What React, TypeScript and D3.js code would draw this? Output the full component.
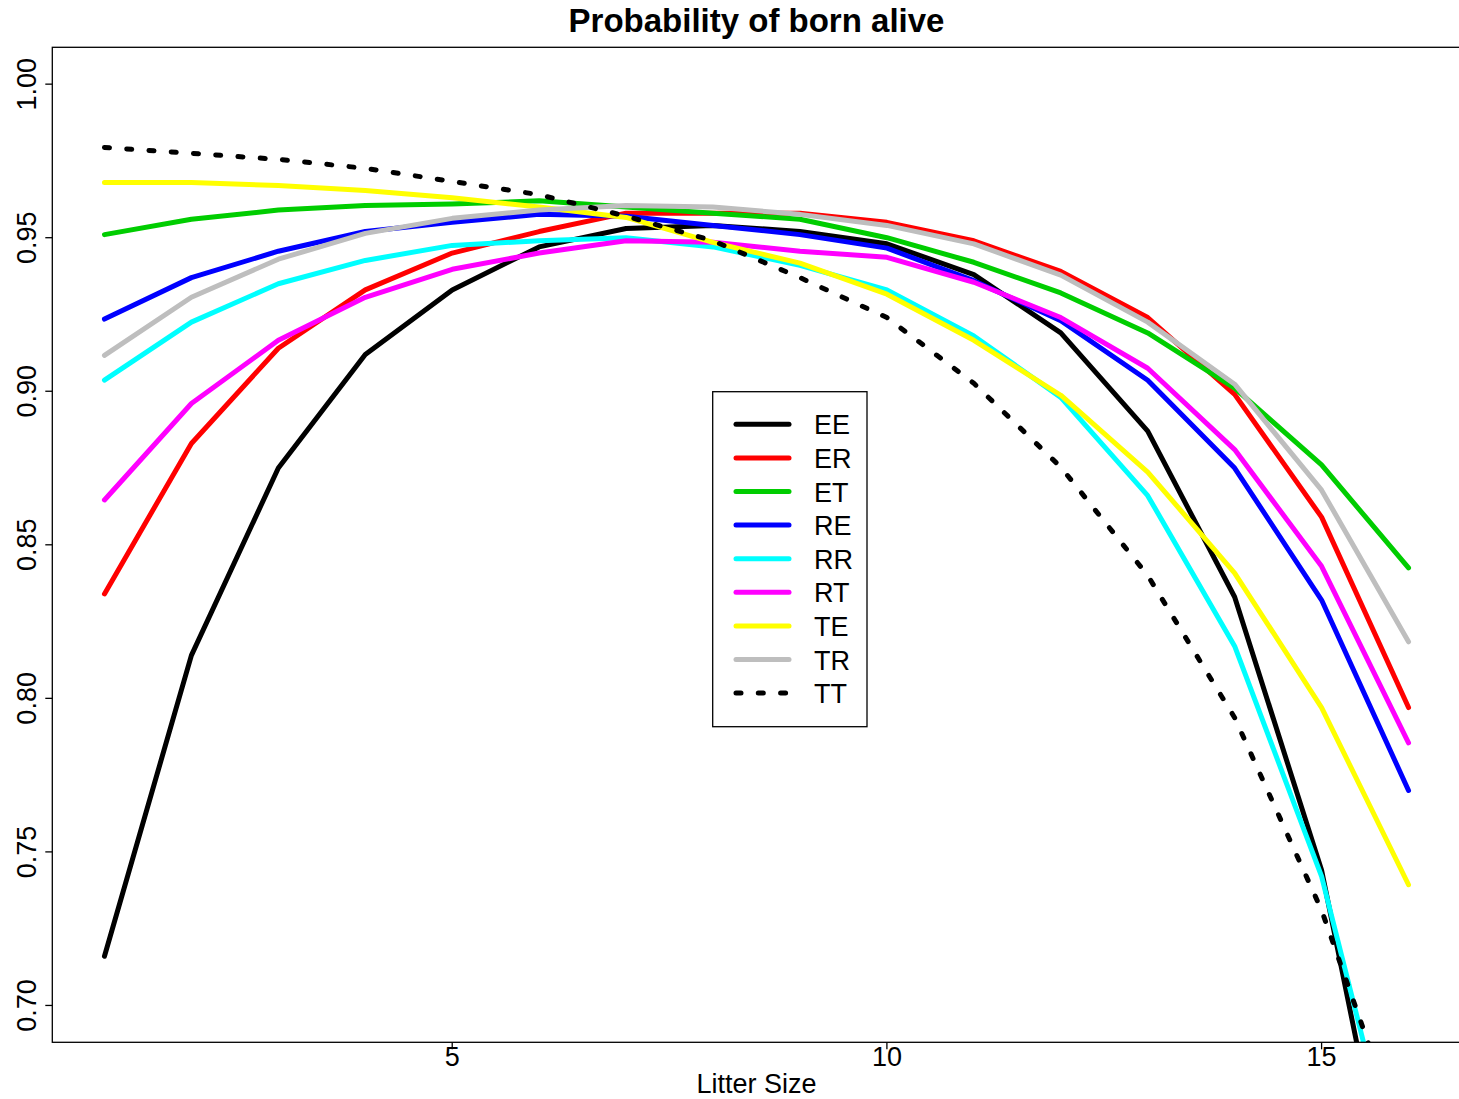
import React from "react";
import * as d3 from "d3";

const litterSizes = [1, 2, 3, 4, 5, 6, 7, 8, 9, 10, 11, 12, 13, 14, 15, 16];

const seriesNames = ["EE", "ER", "ET", "RE", "RR", "RT", "TE", "TR", "TT"];
const seriesColors = ["#000000", "#FF0000", "#00CD00", "#0000FF", "#00FFFF", "#FF00FF", "#FFFF00", "#BEBEBE", "#000000"];
const seriesDotted = [false, false, false, false, false, false, false, false, true];

const EE = [0.716, 0.814, 0.875, 0.912, 0.933, 0.947, 0.953, 0.954, 0.952, 0.948, 0.938, 0.919, 0.887, 0.833, 0.744, 0.605];
const ER = [0.834, 0.883, 0.914, 0.933, 0.945, 0.952, 0.958, 0.958, 0.958, 0.955, 0.949, 0.939, 0.924, 0.899, 0.859, 0.797];
const ET = [0.951, 0.956, 0.959, 0.9605, 0.961, 0.962, 0.96, 0.958, 0.956, 0.95, 0.942, 0.932, 0.919, 0.901, 0.876, 0.8425];
const RE = [0.9235, 0.937, 0.9456, 0.952, 0.955, 0.9576, 0.957, 0.954, 0.951, 0.9466, 0.936, 0.923, 0.9036, 0.875, 0.832, 0.77];
const RR = [0.9036, 0.9225, 0.935, 0.9426, 0.9475, 0.949, 0.95, 0.947, 0.941, 0.933, 0.918, 0.898, 0.866, 0.817, 0.742, 0.63];
const RT = [0.8646, 0.896, 0.9166, 0.9306, 0.9397, 0.945, 0.949, 0.9485, 0.9456, 0.9436, 0.9355, 0.924, 0.9075, 0.881, 0.843, 0.7855];
const TE = [0.968, 0.968, 0.967, 0.9654, 0.963, 0.96, 0.9566, 0.9485, 0.9417, 0.9316, 0.9166, 0.8987, 0.8737, 0.8408, 0.797, 0.7393];
const TR = [0.9117, 0.9306, 0.943, 0.9514, 0.9563, 0.959, 0.9605, 0.96, 0.9576, 0.954, 0.948, 0.9378, 0.9225, 0.9023, 0.8678, 0.8184];
const TT = [0.9794, 0.9775, 0.9755, 0.9726, 0.9683, 0.964, 0.957, 0.949, 0.937, 0.924, 0.9026, 0.8753, 0.84, 0.7937, 0.731, 0.6505];

const seriesValues = [EE, ER, ET, RE, RR, RT, TE, TR, TT];

const xTicks = [5, 10, 15];
const yTicks = [0.7, 0.75, 0.8, 0.85, 0.9, 0.95, 1.0];

const titleText = "Probability of born alive";
const xLabel = "Litter Size";

export default function App() {
  const W = 1459;
  const H = 1099;
  const left = 52.3;
  const top = 47.3;
  const bottom = 1042.3;
  const x = d3.scaleLinear().domain([0.4, 16.6]).range([left, 1460.7]);
  const y = d3.scaleLinear().domain([0.688, 1.012]).range([bottom, top]);
  const right = x(16.6);
  const line = d3
    .line<number>()
    .x((_, i) => x(litterSizes[i]))
    .y((d) => y(d));
  const font = "'Liberation Sans', Arial, sans-serif";

  const legX = 712.7;
  const legY = 391.7;
  const legW = 154.3;
  const legH = 335;
  const rowStep = 33.6;

  return (
    <svg
      width={W}
      height={H}
      style={{ position: "absolute", left: 0, top: 0, background: "#fff" }}
      fontFamily={font}
    >
      <defs>
        <clipPath id="plotclip">
          <rect x={left} y={top} width={right - left} height={bottom - top} />
        </clipPath>
      </defs>
      <rect x={0} y={0} width={W} height={H} fill="#fff" />
      <g clipPath="url(#plotclip)">
        {seriesValues.map((vals, i) => (
          <path
            key={seriesNames[i]}
            d={line(vals) || ""}
            fill="none"
            stroke={seriesColors[i]}
            strokeWidth={5}
            strokeLinecap="round"
            strokeLinejoin="round"
            strokeDasharray={seriesDotted[i] ? "5 17.3" : undefined}
          />
        ))}
      </g>
      <rect x={left} y={top} width={right - left} height={bottom - top} fill="none" stroke="#000" strokeWidth={1.3} />
      {xTicks.map((t) => (
        <g key={t}>
          <line x1={x(t)} x2={x(t)} y1={bottom} y2={bottom + 7} stroke="#000" strokeWidth={1.3} />
          <text x={x(t)} y={1066} textAnchor="middle" fontSize={27}>
            {t}
          </text>
        </g>
      ))}
      {yTicks.map((t) => (
        <g key={t}>
          <line x1={left} x2={left - 7} y1={y(t)} y2={y(t)} stroke="#000" strokeWidth={1.3} />
          <text
            transform={`translate(36,${y(t)}) rotate(-90)`}
            textAnchor="middle"
            fontSize={27}
          >
            {t.toFixed(2)}
          </text>
        </g>
      ))}
      <text x={(left + right) / 2} y={32} textAnchor="middle" fontSize={33} fontWeight="bold">
        {titleText}
      </text>
      <text x={(left + right) / 2} y={1093} textAnchor="middle" fontSize={27}>
        {xLabel}
      </text>
      <rect x={legX} y={legY} width={legW} height={legH} fill="#fff" stroke="#000" strokeWidth={1.3} />
      {seriesNames.map((name, i) => {
        const ry = legY + 32.6 + i * rowStep;
        return (
          <g key={name}>
            <line
              x1={736}
              x2={789}
              y1={ry}
              y2={ry}
              stroke={seriesColors[i]}
              strokeWidth={5}
              strokeLinecap="round"
              strokeDasharray={seriesDotted[i] ? "5 17.3" : undefined}
            />
            <text x={814} y={ry + 10} fontSize={27}>
              {name}
            </text>
          </g>
        );
      })}
    </svg>
  );
}
